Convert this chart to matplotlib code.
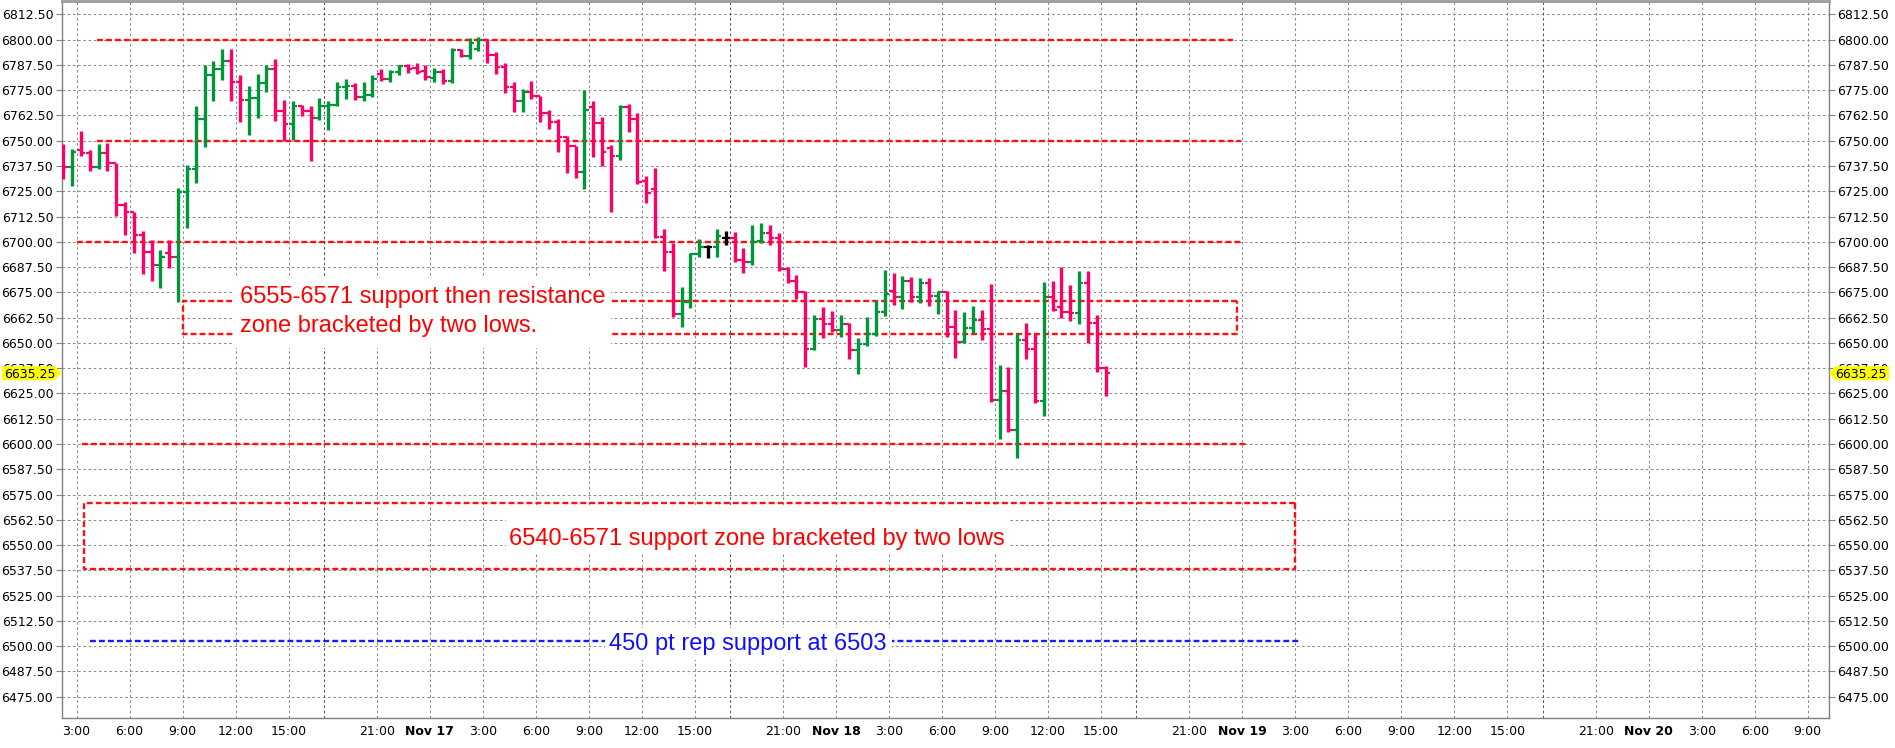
import numpy as np
import matplotlib
matplotlib.use("Agg")
import matplotlib.pyplot as plt
from matplotlib.patches import Polygon, Rectangle
from matplotlib.transforms import IdentityTransform

# ---------------- data (30-minute OHLC bars) ----------------
opens = [6746.0, 6737.1, 6745.5, 6744.0, 6737.1, 6744.0, 6739.0, 6718.1, 6714.5, 6703.3,
         6695.1, 6688.5, 6694.5, 6692.3, 6724.7, 6735.9, 6760.6, 6782.7, 6785.7, 6789.6,
         6779.1, 6770.0, 6771.2, 6778.7, 6785.3, 6764.6, 6758.3, 6767.1, 6764.9, 6761.0,
         6767.1, 6767.9, 6776.6, 6777.1, 6771.7, 6772.5, 6783.0, 6780.7, 6784.0, 6787.0,
         6786.0, 6784.5, 6781.0, 6784.0, 6779.5, 6794.8, 6792.0, 6795.5, 6800.0, 6792.5,
         6786.5, 6776.5, 6769.5, 6774.0, 6772.0, 6763.5, 6759.5, 6752.0, 6747.5, 6734.5,
         6766.5, 6758.6, 6746.5, 6742.4, 6766.8, 6760.7, 6730.0, 6726.0, 6702.5, 6695.1,
         6664.1, 6670.4, 6693.8, 6697.6, 6697.6, 6701.7, 6701.7, 6691.0, 6689.8, 6700.5,
         6704.2, 6702.0, 6686.4, 6680.6, 6675.3, 6647.0, 6661.6, 6659.3, 6656.5, 6659.3,
         6646.5, 6649.4, 6654.2, 6665.4, 6675.5, 6672.5, 6680.6, 6672.5, 6679.8, 6673.3,
         6675.3, 6657.7, 6650.6, 6657.2, 6661.3, 6656.9, 6621.8, 6626.4, 6606.9, 6651.4,
         6647.0, 6621.4, 6672.9, 6668.0, 6665.5, 6664.6, 6679.8, 6660.0, 6637.4]
highs = [6748.3, 6746.1, 6755.0, 6745.3, 6748.3, 6748.9, 6739.0, 6719.8, 6714.8, 6705.4,
         6700.8, 6695.9, 6700.8, 6726.4, 6738.2, 6767.1, 6787.6, 6789.3, 6795.6, 6795.6,
         6782.4, 6776.9, 6783.2, 6787.6, 6790.3, 6770.0, 6769.5, 6767.5, 6767.1, 6771.2,
         6769.5, 6779.1, 6780.4, 6778.6, 6779.1, 6782.4, 6785.7, 6784.8, 6787.3, 6788.1,
         6788.3, 6787.4, 6785.8, 6785.4, 6795.7, 6795.2, 6800.6, 6801.4, 6800.3, 6794.0,
         6788.2, 6778.8, 6775.5, 6779.5, 6772.1, 6765.2, 6760.5, 6752.3, 6747.5, 6775.0,
         6769.8, 6761.5, 6747.9, 6767.6, 6768.0, 6763.8, 6732.7, 6736.3, 6706.3, 6699.2,
         6677.5, 6694.6, 6701.2, 6698.4, 6706.3, 6705.3, 6704.7, 6697.1, 6708.3, 6709.5,
         6708.3, 6704.2, 6687.4, 6683.6, 6675.7, 6663.8, 6667.6, 6665.8, 6663.8, 6659.7,
         6652.2, 6662.6, 6671.2, 6686.0, 6684.4, 6683.1, 6682.4, 6681.9, 6681.9, 6675.7,
         6675.5, 6666.3, 6665.1, 6668.2, 6666.3, 6679.1, 6639.1, 6637.9, 6654.7, 6659.7,
         6654.7, 6679.9, 6680.6, 6687.4, 6678.6, 6685.5, 6685.5, 6663.8, 6638.6]
lows = [6731.3, 6727.7, 6742.5, 6735.1, 6735.8, 6735.1, 6712.9, 6703.6, 6694.6, 6683.9,
        6680.7, 6677.4, 6687.2, 6670.0, 6706.6, 6729.3, 6747.0, 6769.7, 6779.9, 6769.7,
        6759.3, 6753.0, 6761.0, 6774.1, 6759.8, 6749.8, 6750.2, 6762.3, 6740.0, 6760.1,
        6755.2, 6767.1, 6770.5, 6770.0, 6769.5, 6771.7, 6779.6, 6779.1, 6782.4, 6783.7,
        6782.9, 6780.0, 6778.8, 6777.9, 6778.4, 6791.5, 6790.2, 6794.3, 6788.2, 6782.8,
        6773.4, 6764.0, 6764.0, 6770.6, 6759.1, 6755.8, 6744.6, 6734.2, 6731.4, 6725.9,
        6741.8, 6737.6, 6714.6, 6740.4, 6754.1, 6728.6, 6719.0, 6702.0, 6685.7, 6663.0,
        6658.0, 6667.1, 6692.3, 6691.8, 6692.6, 6698.4, 6689.8, 6684.4, 6688.5, 6699.2,
        6698.4, 6685.7, 6679.5, 6671.7, 6638.2, 6646.5, 6652.6, 6655.6, 6653.1, 6642.0,
        6634.6, 6648.6, 6653.6, 6663.3, 6668.7, 6666.8, 6670.4, 6669.9, 6668.2, 6664.3,
        6653.1, 6642.7, 6650.1, 6654.7, 6651.4, 6620.9, 6602.5, 6606.1, 6593.2, 6642.0,
        6620.4, 6613.8, 6665.9, 6662.5, 6660.8, 6659.3, 6650.1, 6635.8, 6623.9]
closes = [6737.1, 6744.5, 6744.0, 6737.1, 6744.0, 6739.2, 6718.1, 6714.5, 6703.3, 6695.1,
          6688.5, 6692.3, 6692.3, 6724.7, 6735.9, 6760.6, 6782.7, 6785.7, 6789.6, 6779.1,
          6770.0, 6771.2, 6778.7, 6785.3, 6764.6, 6758.3, 6767.1, 6764.9, 6761.0, 6767.1,
          6767.9, 6776.6, 6777.1, 6771.7, 6772.5, 6780.7, 6780.7, 6784.0, 6787.0, 6785.5,
          6784.0, 6781.5, 6784.0, 6779.5, 6794.8, 6792.0, 6798.5, 6800.0, 6792.5, 6786.5,
          6776.5, 6769.5, 6774.0, 6772.0, 6763.5, 6759.5, 6752.0, 6747.5, 6734.5, 6765.2,
          6758.6, 6744.5, 6742.4, 6766.8, 6760.7, 6729.7, 6724.3, 6702.5, 6695.1, 6664.1,
          6670.4, 6693.8, 6697.6, 6697.6, 6702.7, 6701.7, 6691.0, 6689.8, 6700.0, 6704.2,
          6702.0, 6686.4, 6680.6, 6675.3, 6647.0, 6661.6, 6659.3, 6656.5, 6659.3, 6646.5,
          6649.4, 6654.2, 6665.4, 6674.3, 6672.5, 6680.6, 6672.5, 6679.8, 6673.3, 6675.3,
          6657.7, 6650.6, 6657.2, 6661.3, 6656.9, 6621.8, 6626.4, 6606.9, 6651.4, 6647.0,
          6621.4, 6672.9, 6666.3, 6665.5, 6664.6, 6679.8, 6660.0, 6637.4, 6635.25]
last_price = 6635.25

# time axis: trading hours counted from Nov 16 3:00 (session break removed)
first_bar_hour = -0.75
bar_step_hours = 0.5
tick_hours = [0, 3, 6, 9, 12, 17, 20,
              23, 26, 29, 32, 35, 40, 43,
              46, 49, 52, 55, 58, 63, 66,
              69, 72, 75, 78, 81, 86, 89,
              92, 95, 98]
tick_labels = ['3:00', '6:00', '9:00', '12:00', '15:00', '21:00', 'Nov 17',
               '3:00', '6:00', '9:00', '12:00', '15:00', '21:00', 'Nov 18',
               '3:00', '6:00', '9:00', '12:00', '15:00', '21:00', 'Nov 19',
               '3:00', '6:00', '9:00', '12:00', '15:00', '21:00', 'Nov 20',
               '3:00', '6:00', '9:00']
session_hours = [14, 37, 60, 83]
y_ticks = np.arange(6475.0, 6812.6, 12.5)

# annotation levels
red_levels = [6800.0, 6750.0, 6700.0, 6600.0]
red_level_spans = [(1.14, 65.45), (1.14, 65.9), (0.01, 65.9), (0.3, 66.2)]
zone1 = (6654.5, 6670.75)
zone1_span = (6.0, 65.7)
zone2 = (6538.0, 6570.75)
zone2_span = (0.44, 69.0)
blue_level = 6502.5
blue_span = (0.76, 69.3)

# ---------------- figure ----------------
W, H = 1895, 748
fig = plt.figure(figsize=(W / 100, H / 100), dpi=100)
ax = fig.add_axes([61.7 / W, 30 / H, (1829 - 61.7) / W, (748 - 30 - 1.4) / H])
ax.set_xlim(-0.84, 99.2)
ax.set_ylim(6464.5, 6818.9)
ax.set_axisbelow(True)

PINK = '#FF0066'
GREEN = '#00973A'
n = len(closes)
xb = first_bar_hour + bar_step_hours * np.arange(n)
cols = []
for o, c in zip(opens, closes):
    cols.append(PINK if c < o else (GREEN if c > o else '#000000'))
ax.vlines(xb, lows, highs, colors=cols, lw=2.4, zorder=5)
ax.hlines(opens, xb - 0.24, xb, colors=cols, lw=1.6, zorder=5)
ax.hlines(closes, xb, xb + 0.24, colors=cols, lw=1.6, zorder=5)

# grid
ax.set_yticks(y_ticks)
ax.set_yticklabels([f'{v:.2f}' for v in y_ticks])
ax.set_xticks(tick_hours)
ax.set_xticklabels(tick_labels)
for lab in ax.get_xticklabels():
    if lab.get_text().startswith('Nov'):
        lab.set_fontweight('bold')
ax.grid(True, color='#8c8c8c', linestyle=(0, (2.5, 2.5)), lw=0.75)
for h in session_hours:
    ax.axvline(h, color='#555555', linestyle=(0, (2.5, 2.5)), lw=0.75, zorder=1)

ax.tick_params(axis='y', which='both', left=True, right=True, labelleft=True,
               labelright=True, length=4, color='#808080', labelsize=9, pad=2)
ax.tick_params(axis='x', length=0, labelsize=9, pad=5)
for s in ['left', 'right', 'bottom']:
    ax.spines[s].set_color('#808080')
    ax.spines[s].set_linewidth(1.0)
ax.spines['top'].set_color('#9a9a9a')
ax.spines['top'].set_linewidth(2.0)

# red dashed levels
red_ls = (0, (2.5, 1.3))
LW = 1.7
for lvl, (x0, x1) in zip(red_levels, red_level_spans):
    ax.hlines(lvl, x0, x1, colors='#FF1010', lw=LW, linestyles=[red_ls], zorder=3)
for (lo, hi), (x0, x1) in [(zone1, zone1_span), (zone2, zone2_span)]:
    ax.plot([x1, x0, x0, x1, x1], [hi, hi, lo, lo, hi], color='#FF1010', lw=LW,
            linestyle=red_ls, zorder=3)
ax.hlines(blue_level, blue_span[0], blue_span[1], colors='#1a1aff', lw=LW,
          linestyles=[red_ls], zorder=3)

# annotation texts with white backgrounds
def px2h(x):
    return (x - 76.5) / 17.666

def py2v(y):
    return 6812.5 - (y - 14.3) / 2.022

for (x0, x1, y0, y1) in [(233, 611, 277, 348), (506, 1008, 506, 553), (605, 892, 628, 660)]:
    ax.add_patch(Rectangle((px2h(x0), py2v(y1)), px2h(x1) - px2h(x0), py2v(y0) - py2v(y1),
                           facecolor='white', edgecolor='none', zorder=4))

fam = ['Liberation Sans', 'DejaVu Sans']
ax.text(px2h(240), py2v(303.3), '6555-6571 support then resistance', color='#FF0000',
        fontsize=17, family=fam, ha='left', va='baseline', zorder=6)
ax.text(px2h(240), py2v(331.7), 'zone bracketed by two lows.', color='#FF0000',
        fontsize=17, family=fam, ha='left', va='baseline', zorder=6)
ax.text(px2h(509), py2v(545), '6540-6571 support zone bracketed by two lows', color='#FF0000',
        fontsize=17, family=fam, ha='left', va='baseline', zorder=6)
ax.text(px2h(609), py2v(650), '450 pt rep support at 6503', color='#1010FF',
        fontsize=17, family=fam, ha='left', va='baseline', zorder=6)

# last price markers (yellow)
yp = ax.transData.transform((0, last_price))[1]
bx0, bx1 = ax.bbox.x0, ax.bbox.x1
top_h, bot_h = 6.5, 7.5
left_poly = Polygon([(2, yp - bot_h), (55, yp - bot_h), (bx0 - 0.5, yp), (55, yp + top_h),
                     (2, yp + top_h)],
                    closed=True, facecolor='#FFFF00', edgecolor='none',
                    transform=IdentityTransform(), zorder=20)
right_poly = Polygon([(W - 6, yp - bot_h), (bx1 + 6, yp - bot_h), (bx1 + 0.5, yp),
                      (bx1 + 6, yp + top_h), (W - 6, yp + top_h)],
                     closed=True, facecolor='#FFFF00', edgecolor='none',
                     transform=IdentityTransform(), zorder=20)
fig.add_artist(left_poly)
fig.add_artist(right_poly)
fig.text((bx0 - 6) / W, (yp - 0.5) / H, f'{last_price:.2f}', ha='right', va='center_baseline',
         fontsize=9, color='black', zorder=21)
fig.text((bx1 + 6) / W, (yp - 0.5) / H, f'{last_price:.2f}', ha='left', va='center_baseline',
         fontsize=9, color='black', zorder=21)

fig.savefig('out.png', dpi=100)
